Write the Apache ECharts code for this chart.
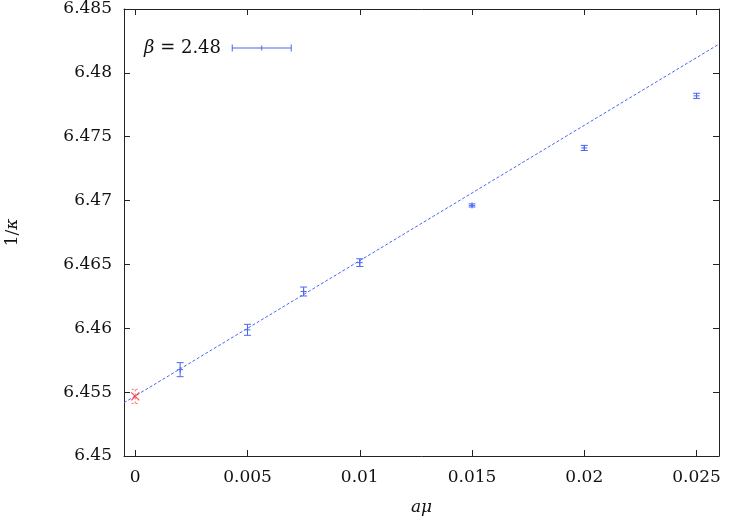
<!DOCTYPE html>
<html>
<head>
<meta charset="utf-8">
<script src="https://cdn.jsdelivr.net/npm/echarts@6/dist/echarts.min.js"></script>
<style>
  html, body { margin: 0; padding: 0; background: #fff; }
  #main { width: 748px; height: 520px; }
</style>
</head>
<body>
<div id="main"></div>
<script>
// a*mu values and 1/kappa with errors, beta = 2.48
const muValues = [0.002, 0.005, 0.0075, 0.01, 0.015, 0.02, 0.025];
const invKappa = [6.45676, 6.45988, 6.46288, 6.46514, 6.46962, 6.47412, 6.47820];
const invKappaErr = [0.00055, 0.00043, 0.00035, 0.0003, 0.00012, 0.0002, 0.0002];

// chiral extrapolation (red cross at a*mu = 0)
const chiralMu = [0];
const chiralKappa = [6.45467];
const chiralErr = [0.00055];

// linear fit end points
const fitX = [-0.0005, 0.026];
const fitY = [6.45417, 6.48225];

const blue = '#4a66f5';
const red = '#ff2020';
const serif = 'DejaVu Serif';

const barData = muValues.map((x, i) => [x, invKappa[i], invKappaErr[i]]);
const chiralData = chiralMu.map((x, i) => [x, chiralKappa[i], chiralErr[i]]);

function errorBars(color, dash, withPlus) {
    return function (params, api) {
        const x = api.value(0), y = api.value(1), e = api.value(2);
        const lo = api.coord([x, y - e]);
        const hi = api.coord([x, y + e]);
        const c = api.coord([x, y]);
        const style = { stroke: color, lineWidth: 1, lineDash: dash, fill: null };
        const cap = 3.5;
        const kids = [
            { type: 'line', shape: { x1: c[0], y1: lo[1], x2: c[0], y2: hi[1] }, style },
            { type: 'line', shape: { x1: c[0] - cap, y1: lo[1], x2: c[0] + cap, y2: lo[1] }, style },
            { type: 'line', shape: { x1: c[0] - cap, y1: hi[1], x2: c[0] + cap, y2: hi[1] }, style }
        ];
        if (withPlus) {
            kids.push({ type: 'line', shape: { x1: c[0] - 3, y1: c[1], x2: c[0] + 3, y2: c[1] }, style: { stroke: color, lineWidth: 1 } });
            kids.push({ type: 'line', shape: { x1: c[0], y1: c[1] - 3, x2: c[0], y2: c[1] + 3 }, style: { stroke: color, lineWidth: 1 } });
        }
        return { type: 'group', children: kids };
    };
}

const chart = echarts.init(document.getElementById('main'), null, { renderer: 'canvas' });

const axisCommon = {
    type: 'value',
    axisLine: { show: true, onZero: false, lineStyle: { color: '#222', width: 1 } },
    axisTick: { show: true, inside: true, length: 6, lineStyle: { color: '#222' } },
    splitLine: { show: false },
    nameMoveOverlap: false,
    axisLabel: { fontFamily: serif, fontSize: 17, color: '#111', showMinLabel: false, showMaxLabel: false }
};

const option = {
    animation: false,
    backgroundColor: '#fff',
    grid: { left: 124, right: 29, top: 9, bottom: 64, outerBoundsMode: 'none', containLabel: false },
    legend: {
        left: 139, top: 34,
        align: 'right',
        itemWidth: 60, itemHeight: 10,
        data: [{
            name: 'beta',
            icon: 'path://M0,4.5h60v1h-60z M0,1.5h1v7h-1z M29.5,2.5h1v5h-1z M59,1.5h1v7h-1z',
            itemStyle: { color: blue, borderWidth: 0 }
        }],
        formatter: () => '{i|β} = 2.48 ',
        textStyle: {
            fontFamily: serif, fontSize: 18, color: '#111',
            rich: { i: { fontFamily: serif, fontSize: 18, fontStyle: 'italic', color: '#111' } }
        }
    },
    xAxis: [
        Object.assign({}, axisCommon, {
            min: -0.0005, max: 0.026, splitNumber: 5,
            axisLabel: Object.assign({}, axisCommon.axisLabel, { margin: 13 }),
            name: 'aμ', nameLocation: 'middle', nameGap: 43,
            nameTextStyle: { fontFamily: serif, fontSize: 17, fontStyle: 'italic', color: '#111' }
        }),
        Object.assign({}, axisCommon, {
            position: 'top', min: -0.0005, max: 0.026, splitNumber: 5,
            axisLabel: { show: false }
        })
    ],
    yAxis: [
        Object.assign({}, axisCommon, {
            min: 6.45, max: 6.485, interval: 0.005,
            axisLabel: Object.assign({}, axisCommon.axisLabel, { showMinLabel: true, showMaxLabel: true, margin: 12 }),
            name: '{n|1/}{k|κ}', nameLocation: 'middle', nameGap: 103,
            nameTextStyle: {
                fontFamily: serif, fontSize: 17, color: '#111',
                rich: {
                    n: { fontFamily: serif, fontSize: 17, color: '#111' },
                    k: { fontFamily: serif, fontSize: 17, fontStyle: 'italic', color: '#111' }
                }
            }
        }),
        Object.assign({}, axisCommon, {
            position: 'right', min: 6.45, max: 6.485, interval: 0.005,
            axisLabel: { show: false }
        })
    ],
    series: [
        {
            name: 'fit',
            type: 'line',
            data: fitX.map((x, i) => [x, fitY[i]]),
            symbol: 'none',
            lineStyle: { color: blue, width: 1, type: [3, 2] },
            silent: true
        },
        {
            name: 'beta',
            type: 'custom',
            data: barData,
            itemStyle: { color: blue },
            renderItem: errorBars(blue, null, true),
            z: 3
        },
        {
            name: 'chiral-err',
            type: 'custom',
            data: chiralData,
            renderItem: errorBars('#ff7070', [2, 2], false),
            z: 3
        },
        {
            name: 'chiral',
            type: 'scatter',
            data: chiralMu.map((x, i) => [x, chiralKappa[i]]),
            symbol: 'path://M0,0L10,10M10,0L0,10',
            symbolSize: 8,
            itemStyle: { color: 'none', borderColor: red, borderWidth: 1.2 },
            z: 4
        }
    ]
};

chart.setOption(option);
</script>
</body>
</html>
